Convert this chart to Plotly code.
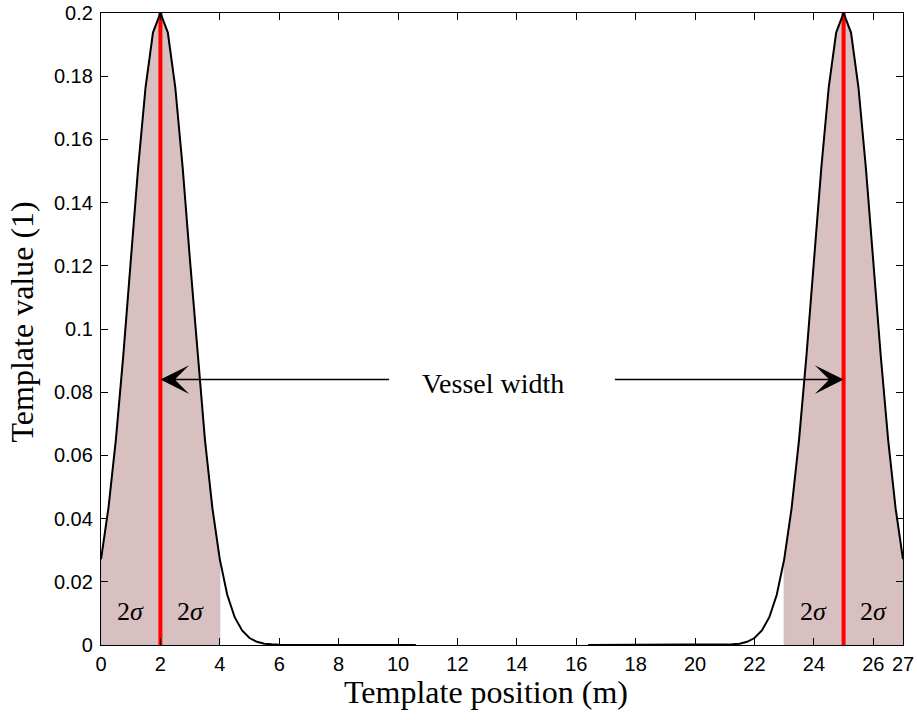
import plotly.graph_objects as go

# ---- data ----
left_x = [0, 0.25, 0.5, 0.75, 1, 1.25, 1.5, 1.75, 2, 2.25, 2.5, 2.75, 3, 3.25, 3.5,
          3.75, 4, 4.25, 4.5, 4.75, 5, 5.25, 5.5, 5.75, 6, 8, 10.6]
left_y = [0.0271, 0.0433, 0.0649, 0.0916, 0.1213, 0.1510, 0.1765, 0.1938, 0.2,
          0.1938, 0.1765, 0.1510, 0.1213, 0.0916, 0.0649, 0.0433, 0.0271, 0.0159,
          0.0088, 0.0046, 0.0022, 0.0010, 0.0004, 0.0002, 0.0001, 0, 0]
right_x = [16.4, 19, 21, 21.25, 21.5, 21.75, 22, 22.25, 22.5, 22.75, 23, 23.25, 23.5,
           23.75, 24, 24.25, 24.5, 24.75, 25, 25.25, 25.5, 25.75, 26, 26.25, 26.5,
           26.75, 27]
right_y = [0, 0, 0.0001, 0.0002, 0.0004, 0.0010, 0.0022, 0.0046, 0.0088, 0.0159,
           0.0271, 0.0433, 0.0649, 0.0916, 0.1213, 0.1510, 0.1765, 0.1938, 0.2,
           0.1938, 0.1765, 0.1510, 0.1213, 0.0916, 0.0649, 0.0433, 0.0271]
centers = [2, 25]
peak = 0.2
shade_ranges = [(0, 4), (23, 27)]
sigma_label_x = [1, 3, 24, 26]
sigma_label_y = 0.0105
arrow_y = 0.084
arrow_tails = [9.75, 17.25]
x_ticks = [0, 2, 4, 6, 8, 10, 12, 14, 16, 18, 20, 22, 24, 26, 27]
y_ticks = [0, 0.02, 0.04, 0.06, 0.08, 0.1, 0.12, 0.14, 0.16, 0.18, 0.2]
y_tick_text = ["0", "0.02", "0.04", "0.06", "0.08", "0.1", "0.12", "0.14", "0.16", "0.18", "0.2"]

SERIF = "Liberation Serif"
SANS = "Liberation Sans"
FILL = "rgb(217,192,192)"

fig = go.Figure()

# shaded regions under the curve
for (a, b), xs, ys in [(shade_ranges[0], left_x, left_y), (shade_ranges[1], right_x, right_y)]:
    px = [x for x in xs if a <= x <= b]
    py = [y for x, y in zip(xs, ys) if a <= x <= b]
    fig.add_trace(go.Scatter(
        x=px + [b, a, a], y=py + [0, 0, py[0]],
        fill="toself", fillcolor=FILL, mode="lines",
        line=dict(color="rgb(190,190,190)", width=1), hoverinfo="skip", showlegend=False))

# red centre lines
for c in centers:
    fig.add_trace(go.Scatter(x=[c, c], y=[0, peak], mode="lines",
                             line=dict(color="rgb(255,0,0)", width=4), showlegend=False))

# template curve
fig.add_trace(go.Scatter(x=left_x + [None] + right_x, y=left_y + [None] + right_y,
                         mode="lines", line=dict(color="black", width=2), showlegend=False))

annotations = []
# arrows
for c, t in zip(centers, arrow_tails):
    annotations.append(dict(x=c, y=arrow_y, ax=t, ay=arrow_y, axref="x", ayref="y",
                            xref="x", yref="y", text="", showarrow=True,
                            arrowhead=3, arrowsize=3, arrowwidth=1.6, arrowcolor="black"))
annotations.append(dict(x=13.2, y=0.0826, xref="x", yref="y", text="Vessel width",
                        showarrow=False, font=dict(family=SERIF, size=28, color="black")))
for sx in sigma_label_x:
    annotations.append(dict(x=sx, y=sigma_label_y, xref="x", yref="y", text="2<i>σ</i>",
                            showarrow=False, font=dict(family=SERIF, size=26, color="black")))
# axis titles
annotations.append(dict(x=0.48, y=-0.074, xref="paper", yref="paper", yanchor="middle",
                        text="Template position (m)", showarrow=False,
                        font=dict(family=SERIF, size=32, color="black")))
annotations.append(dict(x=-0.098, y=0.511, xref="paper", yref="paper", xanchor="center",
                        text="Template value (1)", showarrow=False, textangle=-90,
                        font=dict(family=SERIF, size=32, color="black")))

axis_common = dict(showline=True, linecolor="black", linewidth=1.3, mirror="allticks",
                   ticks="inside", ticklen=7, tickwidth=1.3, tickcolor="black",
                   showgrid=False, zeroline=False, automargin=False,
                   tickfont=dict(family=SANS, size=20, color="black"))

fig.update_layout(
    width=917, height=720,
    margin=dict(l=101, r=14, t=13, b=75),
    paper_bgcolor="white", plot_bgcolor="white",
    xaxis=dict(range=[0, 27], tickvals=x_ticks, ticktext=[str(v) for v in x_ticks],
               ticklabelstandoff=1, **axis_common),
    yaxis=dict(range=[0, 0.2], tickvals=y_ticks, ticktext=y_tick_text,
               ticklabelstandoff=3, **axis_common),
    annotations=annotations,
    showlegend=False,
)

fig.write_html("out.html", config={"displayModeBar": False},
               post_script="document.body.style.margin='0';")
